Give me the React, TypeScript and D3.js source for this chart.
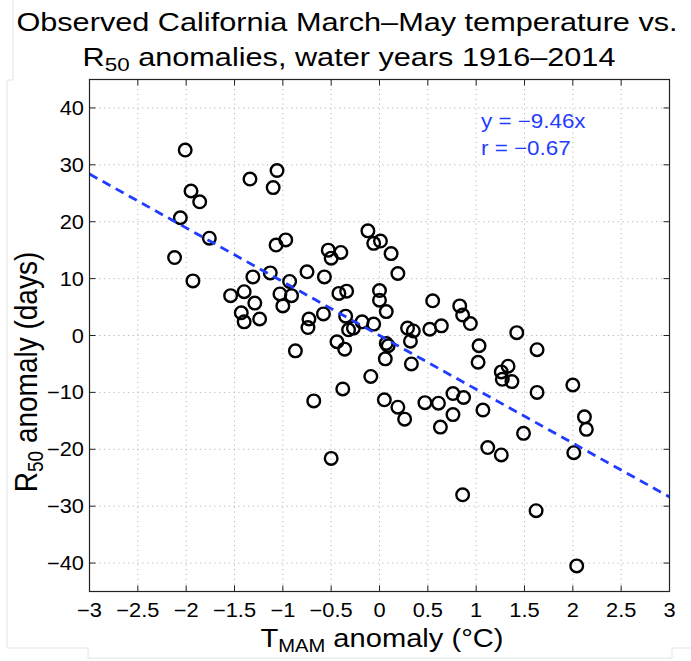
import React from 'react';
import * as d3 from 'd3';

// Observed T_MAM anomaly (°C)
const tmam: number[] = [
  -2.01, -1.34, -1.06, -1.10, -1.95, -1.86, -2.06, -1.76, -1.07, -0.97,
  -2.12, -1.93, -0.53, -0.50, -0.40, -1.31, -1.13, -0.75, -0.57, -0.93,
  -1.54, -1.40, -1.03, -0.91, -0.42, -1.29, -1.00, -1.43, -1.40, -1.24,
  -0.73, -0.58, -0.74,
  -0.12, -0.06, 0.01, 0.12, 0.19, -0.34, 0.00, 0.00, 0.07, 0.55,
  0.83, 0.86, 0.94, -0.35, -0.44, -0.36, -0.32, -0.27, -0.18, -0.06,
  0.07, 0.09, 0.06, 0.29, 0.35, 0.32, 0.52, 0.64, 1.03, 1.02,
  0.33, -0.87,
  -0.09, -0.38, 0.05, 0.19, 0.26, 0.47, 0.61, 0.76, 0.87, 0.76,
  0.63, 1.07, 1.49, 1.12, 1.26, 0.86, 1.42, 1.63, 1.63, 1.26,
  1.33, 1.27, 1.37,
  2.00, 2.12, 2.14, 2.01, 1.62, 2.04, -0.68, -0.50,
];

// Observed R50 anomaly (days)
const r50: number[] = [
  32.6, 27.5, 29.0, 26.0, 25.4, 23.5, 20.7, 17.1, 15.9, 16.8,
  13.7, 9.6, 15.0, 13.6, 14.6, 10.3, 11.0, 11.2, 10.3, 9.5,
  7.0, 7.7, 7.3, 7.0, 7.4, 5.7, 5.2, 4.0, 2.4, 2.9,
  2.9, 3.8, 1.4,
  18.4, 16.2, 16.6, 14.4, 10.9, 7.8, 7.9, 6.2, 4.2, 6.1,
  5.2, 3.6, 2.1, 3.4, -1.1, -2.4, 1.0, 1.3, 2.4, 2.0,
  -1.4, -1.8, -4.1, 1.3, 0.8, -1.0, 1.1, 1.7, -1.8, -4.7,
  -5.0, -2.7,
  -7.2, -9.4, -11.3, -12.6, -14.7, -11.8, -11.9, -10.2, -10.9, -13.9,
  -16.1, -13.1, -17.2, -19.7, -21.0, -28.0, 0.5, -2.5, -10.0, -6.4,
  -5.4, -7.7, -8.1,
  -8.7, -14.3, -16.5, -20.6, -30.8, -40.5, -11.5, -21.6,
];

const xTicks: number[] = [-3, -2.5, -2, -1.5, -1, -0.5, 0, 0.5, 1, 1.5, 2, 2.5, 3];
const yTicks: number[] = [-40, -30, -20, -10, 0, 10, 20, 30, 40];
const xDomain: number[] = [-3, 3];
const yDomain: number[] = [-45, 45];
const slope = -9.46;
const corr = -0.67;

const FONT = "'Liberation Sans', Arial, Helvetica, sans-serif";
const SX = 1.12;
const SXT = 1.18;
const BLUE = '#1f3cff';

const minus = (s: string) => s.replace('-', '\u2212');

export default function App() {
  const W = 691;
  const H = 661;
  const x = d3.scaleLinear().domain(xDomain).range([89.5, 669.5]);
  const y = d3.scaleLinear().domain(yDomain).range([591.5, 79.5]);
  const [x0, x1] = x.range();
  const [y0, y1] = y.range();

  const pts = tmam.map((t, i) => ({ t, r: r50[i] }));
  const line = d3.line<number>().x((d) => x(d)).y((d) => y(slope * d));
  const tick = 6;

  return (
    <svg
      width={W}
      height={H}
      style={{ position: 'absolute', left: 0, top: 0, display: 'block', background: '#fff' }}
      fontFamily={FONT}
    >
      <rect x={0} y={0} width={W} height={H} fill="#fff" />
      <path d="M13,0 V80 H7 V648 H88 V658 H672 V648 H691" fill="none" stroke="#e4e4e4" strokeWidth={1} />

      {/* grid */}
      {xTicks.filter((v) => v !== xDomain[0] && v !== xDomain[1]).map((v) => (
        <line key={'gx' + v} x1={x(v)} x2={x(v)} y1={y1} y2={y0} stroke="#b8b8b8" strokeWidth={1} strokeDasharray="1.2,3.6" />
      ))}
      {yTicks.map((v) => (
        <line key={'gy' + v} x1={x0} x2={x1} y1={y(v)} y2={y(v)} stroke="#b8b8b8" strokeWidth={1} strokeDasharray="1.2,3.6" />
      ))}

      {/* ticks */}
      {xTicks.map((v) => (
        <g key={'tx' + v}>
          <line x1={x(v)} x2={x(v)} y1={y0} y2={y0 - tick} stroke="#222" strokeWidth={1} />
          <line x1={x(v)} x2={x(v)} y1={y1} y2={y1 + tick} stroke="#222" strokeWidth={1} />
        </g>
      ))}
      {yTicks.map((v) => (
        <g key={'ty' + v}>
          <line x1={x0} x2={x0 + tick} y1={y(v)} y2={y(v)} stroke="#222" strokeWidth={1} />
          <line x1={x1} x2={x1 - tick} y1={y(v)} y2={y(v)} stroke="#222" strokeWidth={1} />
        </g>
      ))}

      {/* points */}
      {pts.map((p, i) => (
        <circle key={i} cx={x(p.t)} cy={y(p.r)} r={6.3} fill="none" stroke="#000" strokeWidth={2.4} />
      ))}

      {/* regression line */}
      <path d={line(xDomain) || ''} fill="none" stroke={BLUE} strokeWidth={2.8} strokeDasharray="9,6" />

      {/* box */}
      <rect x={x0} y={y1} width={x1 - x0} height={y0 - y1} fill="none" stroke="#222" strokeWidth={1.2} />

      {/* tick labels */}
      {xTicks.map((v) => (
        <g key={'lx' + v} transform={`translate(${x(v)},617) scale(${SX},1)`}>
          <text textAnchor="middle" fontSize={19.5} fill="#000">{minus(String(v))}</text>
        </g>
      ))}
      {yTicks.map((v) => (
        <g key={'ly' + v} transform={`translate(84,${y(v) + 7}) scale(${SX},1)`}>
          <text textAnchor="end" fontSize={19.5} fill="#000">{minus(String(v))}</text>
        </g>
      ))}

      {/* annotation */}
      <g transform={`translate(481,128) scale(${SX},1)`}>
        <text fontSize={20} fill={BLUE}>{'y = ' + minus(slope.toFixed(2)) + 'x'}</text>
      </g>
      <g transform={`translate(481,155) scale(${SX},1)`}>
        <text fontSize={20} fill={BLUE}>{'r = ' + minus(corr.toFixed(2))}</text>
      </g>

      {/* title */}
      <g transform={`translate(347,31) scale(${SXT},1)`}>
        <text textAnchor="middle" fontSize={26} fill="#000">Observed California March–May temperature vs.</text>
      </g>
      <g transform={`translate(349,66) scale(${SXT},1)`}>
        <text textAnchor="middle" fontSize={26} fill="#000">
          R<tspan fontSize={19} dy={5}>50</tspan><tspan dy={-5}> anomalies, water years 1916–2014</tspan>
        </text>
      </g>

      {/* axis labels */}
      <g transform={`translate(382,647) scale(${SX},1)`}>
        <text textAnchor="middle" fontSize={26} fill="#000">
          T<tspan fontSize={18} dy={5}>MAM</tspan><tspan dy={-5}> anomaly (°C)</tspan>
        </text>
      </g>
      <g transform={`translate(37,372) rotate(-90) scale(1,${SX})`}>
        <text textAnchor="middle" fontSize={28} fill="#000">
          R<tspan fontSize={19} dy={5}>50</tspan><tspan dy={-5}>  anomaly (days)</tspan>
        </text>
      </g>
    </svg>
  );
}
